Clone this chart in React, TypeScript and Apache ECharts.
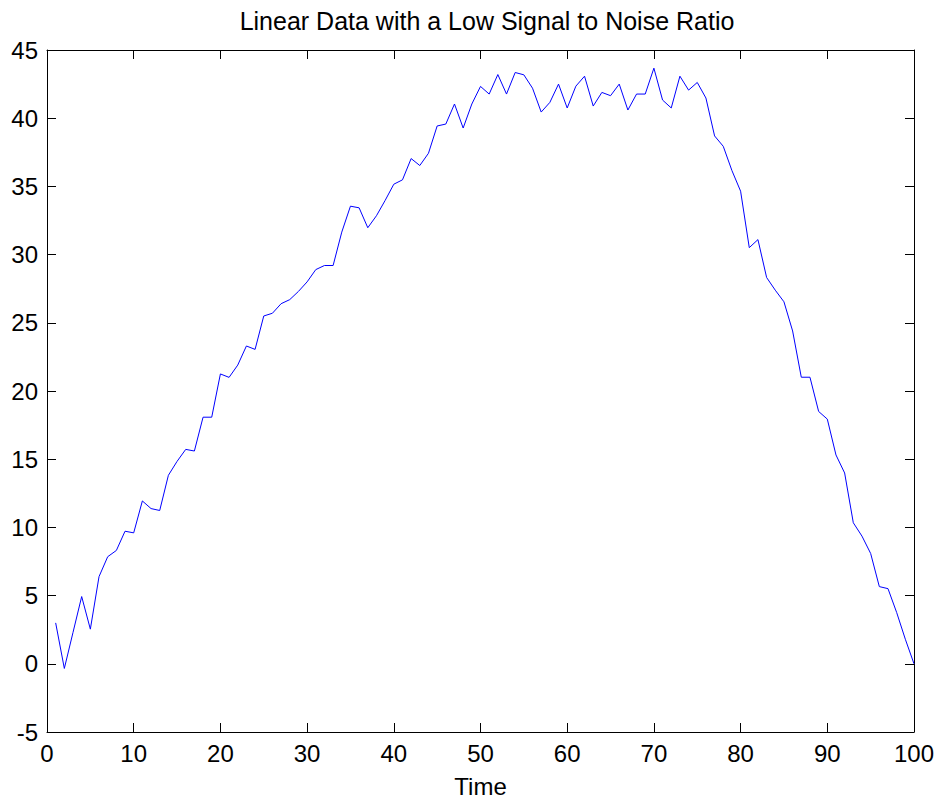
import React, { useEffect, useRef } from "react";
import * as echarts from "echarts";

const titleText = "Linear Data with a Low Signal to Noise Ratio";
const xAxisName = "Time";

const values: number[] = [
  3.0, -0.34, 2.3, 4.93, 2.54, 6.39, 7.85, 8.31, 9.72, 9.6,
  11.94, 11.38, 11.24, 13.82, 14.84, 15.72, 15.6, 18.08, 18.08, 21.25,
  21.0, 21.9, 23.3, 23.05, 25.5, 25.7, 26.4, 26.7, 27.3, 28.0,
  28.9, 29.2, 29.2, 31.65, 33.55, 33.43, 31.97, 32.85, 33.97, 35.16,
  35.48, 37.04, 36.53, 37.43, 39.43, 39.57, 41.04, 39.28, 41.04, 42.33,
  41.77, 43.2, 41.77, 43.35, 43.18, 42.2, 40.45, 41.16, 42.5, 40.75,
  42.35, 43.08, 40.89, 41.89, 41.65, 42.5, 40.6, 41.77, 41.77, 43.67,
  41.33, 40.75, 43.08, 42.06, 42.62, 41.48, 38.7, 37.94, 36.16, 34.65,
  30.51, 31.1, 28.32, 27.39, 26.54, 24.4, 21.01, 21.01, 18.5, 17.94,
  15.31, 13.99, 10.34, 9.36, 8.09, 5.66, 5.51, 3.76, 1.8, 0.0,
];

const xMin = 0;
const xMax = 100;
const xStep = 10;
const yMin = -5;
const yMax = 45;
const yStep = 5;

const FONT = "'Liberation Sans', Arial, Helvetica, sans-serif";

export default function App() {
  const ref = useRef<HTMLDivElement>(null);

  useEffect(() => {
    if (!ref.current) return;
    const chart = echarts.init(ref.current, undefined, { renderer: "svg" });
    const points = values.map((v, i) => [i + 1, v]);
    const axisLine = { show: true, onZero: false, lineStyle: { color: "#000", width: 1 } };
    const axisTick = { show: true, inside: true, length: 9, lineStyle: { color: "#000", width: 1 } };
    chart.setOption({
      animation: false,
      backgroundColor: "#fff",
      textStyle: { fontFamily: FONT },
      title: {
        text: titleText,
        left: 482,
        top: 3,
        textAlign: "center",
        textStyle: { fontFamily: FONT, fontSize: 25, fontWeight: "normal", color: "#000" },
      },
      grid: { left: 47, right: 27, top: 50, bottom: 69, containLabel: false },
      xAxis: [
        {
          type: "value",
          min: xMin,
          max: xMax,
          interval: xStep,
          position: "bottom",
          name: xAxisName,
          nameLocation: "middle",
          nameGap: 42,
          nameTextStyle: { fontFamily: FONT, fontSize: 24, color: "#000" },
          axisLine,
          axisTick,
          axisLabel: { show: true, margin: 9, fontFamily: FONT, fontSize: 24, color: "#000" },
          splitLine: { show: false },
        },
        {
          type: "value",
          min: xMin,
          max: xMax,
          interval: xStep,
          position: "top",
          axisLine,
          axisTick,
          axisLabel: { show: false },
          splitLine: { show: false },
        },
      ],
      yAxis: [
        {
          type: "value",
          min: yMin,
          max: yMax,
          interval: yStep,
          position: "left",
          axisLine,
          axisTick,
          axisLabel: { show: true, margin: 9, fontFamily: FONT, fontSize: 24, color: "#000" },
          splitLine: { show: false },
        },
        {
          type: "value",
          min: yMin,
          max: yMax,
          interval: yStep,
          position: "right",
          axisLine,
          axisTick,
          axisLabel: { show: false },
          splitLine: { show: false },
        },
      ],
      series: [
        {
          type: "line",
          data: points,
          xAxisIndex: 0,
          yAxisIndex: 0,
          showSymbol: false,
          symbol: "none",
          lineStyle: { color: "#0000ff", width: 1 },
          itemStyle: { color: "#0000ff" },
        },
      ],
    });
    return () => chart.dispose();
  }, []);

  return (
    <div
      ref={ref}
      style={{ position: "fixed", left: 0, top: 0, width: 941, height: 803, background: "#fff" }}
    />
  );
}
